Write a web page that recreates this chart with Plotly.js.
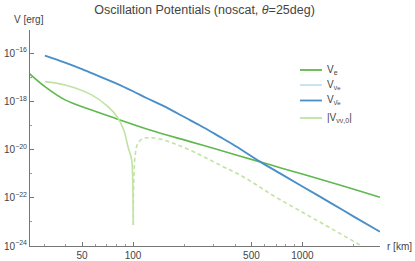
<!DOCTYPE html>
<html>
<head>
<meta charset="utf-8">
<script src="https://cdn.plot.ly/plotly-3.0.1.min.js"></script>
<style>html,body{margin:0;padding:0;background:#fff;}#chart{width:415px;height:261px;}</style>
</head>
<body>
<div id="chart"></div>
<script>
// ---- data ----
const seriesNames = [
  "V<sub>e</sub>",
  "V<sub>ν<span style=\"font-size:6px\">e</span></sub>",
  "V<sub>ν̄<span style=\"font-size:6px\">e</span></sub>",
  "|V<sub>νν,0</sub>|"
];

// V_e
const rVe = [24.3, 30.2, 39.7, 57.0, 78.3, 126, 217, 312, 562, 738, 1109, 1738, 2871];
const logVe = [-16.83, -17.39, -17.94, -18.36, -18.70, -19.19, -19.67, -19.99, -20.51, -20.75, -21.11, -21.51, -21.98];

// V_anti-nu_e
const rVnubar = [30.2, 39.7, 50, 63.8, 80, 100, 120, 150, 217, 249, 320, 400, 562, 738, 1000, 1500, 2000, 2871];
const logVnubar = [-16.10, -16.39, -16.66, -16.97, -17.26, -17.58, -17.86, -18.18, -18.78, -19.00, -19.44, -19.84, -20.50, -20.99, -21.53, -22.25, -22.77, -23.41];

// V_nu_e (hidden beneath V_anti-nu_e in the reference)
const rVnu = [30.2, 39.7, 50, 63.8, 80, 100, 120, 150, 217, 249, 320, 400, 562, 738, 1000, 1500, 2000, 2871];
const logVnu = [-16.10, -16.39, -16.66, -16.97, -17.26, -17.58, -17.86, -18.18, -18.78, -19.00, -19.44, -19.84, -20.50, -20.99, -21.53, -22.25, -22.77, -23.41];

// |V_nunu,0|: positive branch (solid) and negative branch (dashed, absolute value)
const rVnnPos = [30.2, 39.7, 57.0, 71.2, 81.5, 88.5, 93.4, 98.2, 99.6, 100.4];
const logVnnPos = [-17.18, -17.32, -17.73, -18.22, -18.69, -19.22, -19.88, -20.43, -21.26, -23.13];
const rVnnNeg = [100.4, 102.8, 107.0, 114.6, 126, 144, 173, 217, 272, 341, 428, 537, 673, 1000, 1500, 2280, 2871];
const logVnnNeg = [-23.13, -20.29, -19.73, -19.54, -19.51, -19.56, -19.74, -20.02, -20.36, -20.71, -21.05, -21.47, -21.91, -22.60, -23.30, -24.03, -24.43];

const bandLow = [6.0e-23, 1.95e-24];
const bandHigh = [1.9e-22, 5.8e-24];

const xTickVals = [50, 100, 500, 1000];
const xMinorVals = [30, 40, 60, 70, 80, 90, 200, 300, 400, 600, 700, 800, 900, 2000];
const yTickExp = [-24, -22, -20, -18, -16];
const yMinorExp = [-23, -21, -19, -17, -15];

// ---- build ----
const p10 = a => a.map(v => Math.pow(10, v));
const cols = {ve: "#5fb84f", vnu: "#c6e0ef", vnubar: "#4a8fc8", vnn: "#c0e3a4"};
const serieColors = [cols.ve, cols.vnu, cols.vnubar, cols.vnn];
const traces = [
  {x: rVnu, y: p10(logVnu), name: seriesNames[1], mode: "lines", line: {color: cols.vnu, width: 1.0, shape: "spline"}},
  {x: rVe, y: p10(logVe), name: seriesNames[0], mode: "lines", line: {color: cols.ve, width: 1.6, shape: "spline"}},
  {x: rVnubar, y: p10(logVnubar), name: seriesNames[2], mode: "lines", line: {color: cols.vnubar, width: 1.9, shape: "spline"}},
  {x: rVnnPos, y: p10(logVnnPos), name: seriesNames[3], mode: "lines", line: {color: cols.vnn, width: 1.6, shape: "spline"}},
  {x: rVnnNeg, y: p10(logVnnNeg), name: seriesNames[3], mode: "lines", line: {color: cols.vnn, width: 1.6, dash: "4px,3px", shape: "spline"}}
];

const shapes = bandLow.map((lo, i) => ({
  type: "rect", xref: "paper", yref: "y", x0: 0, x1: 1,
  y0: Math.log10(lo), y1: Math.log10(bandHigh[i]),
  fillcolor: "#e5e5e5", line: {width: 0}, layer: "below"
}));

// manual legend (pixel positions converted to paper coords of the plot area)
const plotL = 30, plotW = 350, plotB = 246, plotH = 216;
const px = v => (v - plotL) / plotW, py = v => (plotB - v) / plotH;
const legendY = [70, 85, 100.5, 118];
const annotations = [
  {text: "V [erg]", xref: "paper", yref: "paper", x: px(12), y: py(19), xanchor: "left", yanchor: "middle", showarrow: false, font: {size: 10, color: "#444"}},
  {text: "r [km]", xref: "paper", yref: "paper", x: px(385), y: py(246), xanchor: "left", yanchor: "middle", showarrow: false, font: {size: 10, color: "#444"}}
];
seriesNames.forEach((nm, i) => {
  shapes.push({type: "line", xref: "paper", yref: "paper", x0: px(300), x1: px(322), y0: py(legendY[i]), y1: py(legendY[i]), line: {color: serieColors[i], width: 1.8}});
  annotations.push({text: nm, xref: "paper", yref: "paper", x: px(325), y: py(legendY[i]), xanchor: "left", yanchor: "middle", showarrow: false, font: {size: 10, color: "#444"}});
});

const font = {family: "Liberation Sans, Arial, sans-serif", color: "#444", size: 10};
const layout = {
  width: 415, height: 261,
  margin: {l: 30, r: 35, t: 30, b: 15},
  paper_bgcolor: "#fff", plot_bgcolor: "#fff",
  font: font,
  showlegend: false,
  title: {text: "Oscillation Potentials (noscat, <i>θ</i>=25deg)", x: 0.493, xanchor: "center", y: 0.965, yanchor: "middle", font: {family: font.family, size: 12.5, color: "#444"}},
  xaxis: {
    type: "log", range: [1.392, 3.458], showgrid: false, zeroline: false,
    showline: true, linecolor: "#777", linewidth: 1,
    ticks: "inside", ticklen: 4, tickcolor: "#777",
    tickmode: "array", tickvals: xTickVals, ticktext: xTickVals.map(String),
    tickfont: {size: 10, color: "#444"},
    minor: {tickmode: "array", tickvals: xMinorVals, ticks: "inside", ticklen: 2, tickcolor: "#999", showgrid: false}
  },
  yaxis: {
    type: "log", range: [-24, -15.04], showgrid: false, zeroline: false,
    showline: true, linecolor: "#777", linewidth: 1,
    ticks: "inside", ticklen: 4, tickcolor: "#777",
    tickmode: "array", tickvals: p10(yTickExp), ticktext: yTickExp.map(e => "10<sup>−" + Math.abs(e) + "</sup>"),
    tickfont: {size: 10, color: "#444"},
    minor: {tickmode: "array", tickvals: p10(yMinorExp), ticks: "inside", ticklen: 2, tickcolor: "#999", showgrid: false}
  },
  shapes: shapes,
  annotations: annotations
};
Plotly.newPlot("chart", traces, layout, {staticPlot: true, displayModeBar: false});
</script>
</body>
</html>
